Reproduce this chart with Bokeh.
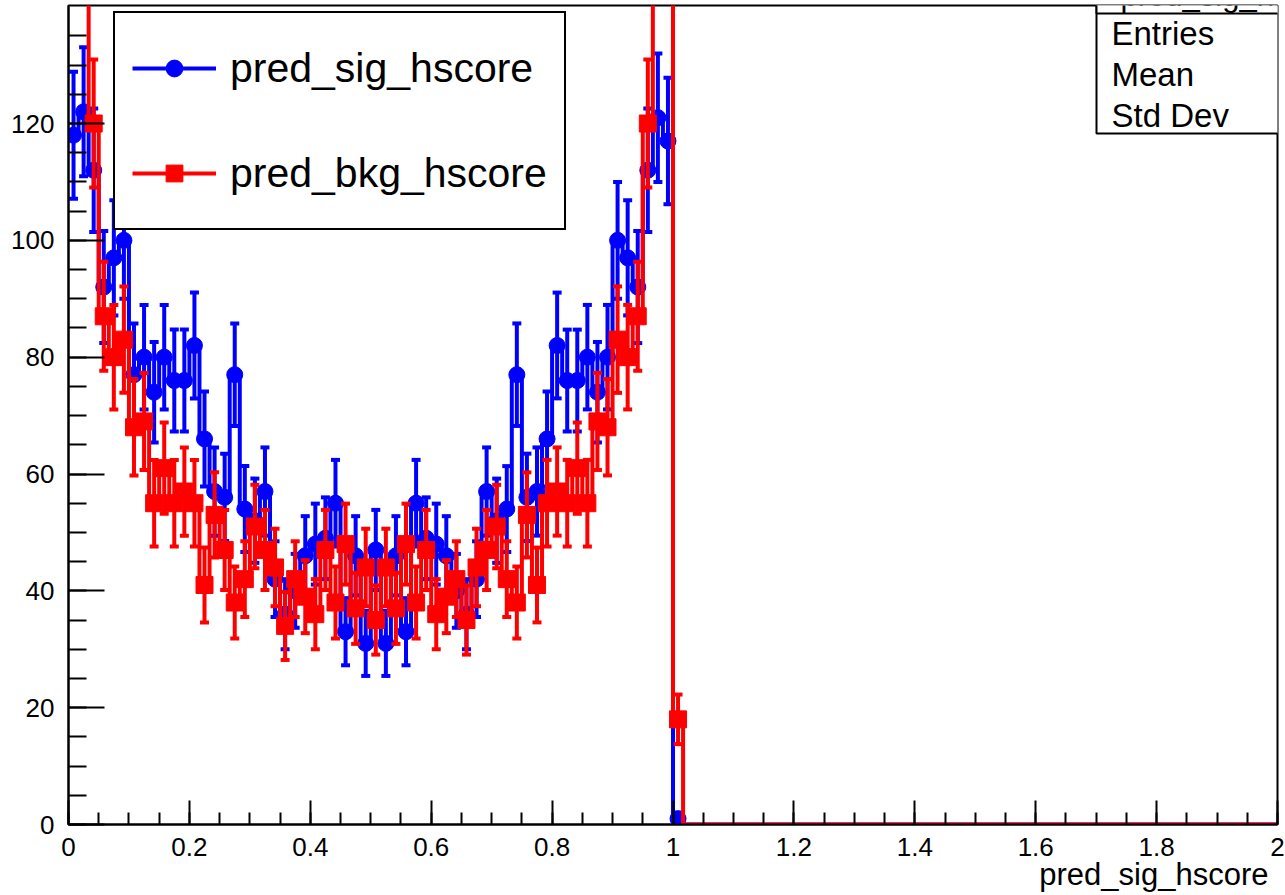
import numpy as np
from bokeh.plotting import figure
from bokeh.models import (Legend, LegendItem, Label, BoxAnnotation, FixedTicker,
                          CustomJSTickFormatter, Title)
from bokeh.embed import file_html
from bokeh.resources import INLINE

# ---------------- data ----------------
x_lo = 0.0
x_hi = 2.0
n_bins = 120

# bin contents for bins 0..60 (all remaining bins are empty)
sig_counts = [118, 122, 112, 92, 97, 100, 77, 80, 74, 80, 76, 76, 82, 66, 57, 56,
              77, 54, 52, 57, 42, 36, 40, 46, 48, 49, 55, 33, 46, 31, 47,
              31, 46, 33, 55, 49, 48, 46, 40, 36, 42, 57, 52, 54, 77, 56,
              57, 66, 82, 76, 76, 80, 74, 80, 100, 97, 92, 112, 121, 117, 1]
bkg_counts = [165, 160, 120, 87, 80, 83, 68, 69, 55, 61, 55, 57, 55, 41, 53, 47,
              38, 42, 51, 47, 44, 34, 42, 39, 36, 47, 38, 48, 37, 44, 35,
              44, 37, 48, 38, 47, 36, 39, 42, 35, 44, 47, 51, 42, 38, 53,
              41, 55, 57, 55, 61, 55, 69, 68, 83, 80, 87, 120, 160, 165, 18]

x_ticks = [0, 0.2, 0.4, 0.6, 0.8, 1, 1.2, 1.4, 1.6, 1.8, 2]
y_ticks = [0, 20, 40, 60, 80, 100, 120]
y_max = 140.2

sig_name = "pred_sig_hscore"
bkg_name = "pred_bkg_hscore"
stat_labels = ["Entries", "Mean", "Std Dev"]
stat_values = ["", "0.4961", "0.2969"]

FONT = "Liberation Sans"
BLUE = "#0000ff"
RED = "#ff0000"

# ---------------- figure ----------------
p = figure(width=1285, height=895, x_range=(x_lo, x_hi), y_range=(0, y_max),
           output_backend="svg", toolbar_location=None, title_location=None,
           min_border_left=68, min_border_right=8, min_border_top=5,
           min_border_bottom=71)
p.grid.visible = False
p.background_fill_color = "white"
p.border_fill_color = "white"
p.outline_line_color = "black"
p.outline_line_width = 2

for ax in (p.xaxis[0], p.yaxis[0]):
    ax.axis_line_width = 2
    ax.major_tick_line_width = 2
    ax.minor_tick_line_width = 2
    ax.major_tick_out = 0
    ax.minor_tick_out = 0
    ax.major_label_text_font = FONT
    ax.major_label_text_font_size = "26px"
    ax.major_label_text_color = "black"

xa = p.xaxis[0]
xa.ticker = FixedTicker(ticks=x_ticks,
                        minor_ticks=[float(t) for t in np.round(np.arange(0, 2.0001, 0.05), 3)])
xa.formatter = CustomJSTickFormatter(code="return tick.toString()")
xa.major_tick_in = 24
xa.minor_tick_in = 12
xa.major_label_standoff = 13

# x-axis title, right aligned at the end of the axis (as ROOT does)
p.add_layout(Title(text=sig_name, align="right", offset=9, standoff=-7,
                   text_font=FONT, text_font_size="31px",
                   text_font_style="normal", text_color="black"), "below")

ya = p.yaxis[0]
ya.ticker = FixedTicker(ticks=y_ticks,
                        minor_ticks=[float(t) for t in np.arange(0, 140, 5)])
ya.major_tick_in = 36
ya.minor_tick_in = 18
ya.major_label_standoff = 14

edges = np.linspace(x_lo, x_hi, n_bins + 1)
centers = 0.5 * (edges[:-1] + edges[1:])


def draw_hist(counts, color, marker, msize):
    full = np.zeros(n_bins)
    full[:len(counts)] = counts
    step_r = p.step(x=edges, y=np.append(full, full[-1]), mode="after",
                    line_color=color, line_width=4)
    c = centers[:len(counts)]
    v = np.array(counts, dtype=float)
    e = np.sqrt(v)
    p.segment(x0=c, y0=v - e, x1=c, y1=v + e, line_color=color, line_width=4)
    p.scatter(x=np.concatenate([c, c]), y=np.concatenate([v - e, v + e]),
              marker="dash", size=9, line_color=color, line_width=4)
    mark_r = p.scatter(x=c, y=v, marker=marker, size=msize,
                       fill_color=color, line_color=color, line_width=1)
    return step_r, mark_r


sig_step, sig_mark = draw_hist(sig_counts, BLUE, "circle", 16)
bkg_step, bkg_mark = draw_hist(bkg_counts, RED, "square", 17)

legend = Legend(items=[LegendItem(label=sig_name, renderers=[sig_step, sig_mark]),
                       LegendItem(label=bkg_name, renderers=[bkg_step, bkg_mark])],
                location=(45, 594), padding=17, spacing=29, margin=0,
                glyph_width=84, glyph_height=42, label_height=76,
                label_standoff=14, label_text_font=FONT,
                label_text_font_size="41px", label_text_color="black",
                border_line_color="black", border_line_width=2,
                border_line_alpha=1.0,
                background_fill_color="white", background_fill_alpha=1.0)
p.add_layout(legend)

# statistics box (partly outside the visible area, as in the reference)
box_kw = dict(left_units="screen", right_units="screen",
              bottom_units="screen", top_units="screen",
              fill_color="white", fill_alpha=1.0,
              line_color="black", line_alpha=1.0, line_width=2)
p.add_layout(BoxAnnotation(left=1028, right=1260, bottom=691, top=860, **box_kw))
p.add_layout(BoxAnnotation(left=1028, right=1260, bottom=811, top=860, **box_kw))
p.add_layout(Label(x=1052, y=812, x_units="screen", y_units="screen",
                   text=sig_name, text_font=FONT, text_font_size="31px",
                   text_color="black",
                   text_baseline="bottom", text_align="left"))
for i, (lab, val) in enumerate(zip(stat_labels, stat_values)):
    yy = 791 - 41 * i
    p.add_layout(Label(x=1043, y=yy, x_units="screen", y_units="screen",
                       text=lab, text_font=FONT, text_font_size="33px",
                       text_color="black",
                       text_baseline="middle", text_align="left"))
    if val:
        p.add_layout(Label(x=1210, y=yy, x_units="screen", y_units="screen",
                           text=val, text_font=FONT, text_font_size="33px",
                           text_color="black",
                           text_baseline="middle", text_align="left"))

open("out.html", "w").write(file_html(p, INLINE))
